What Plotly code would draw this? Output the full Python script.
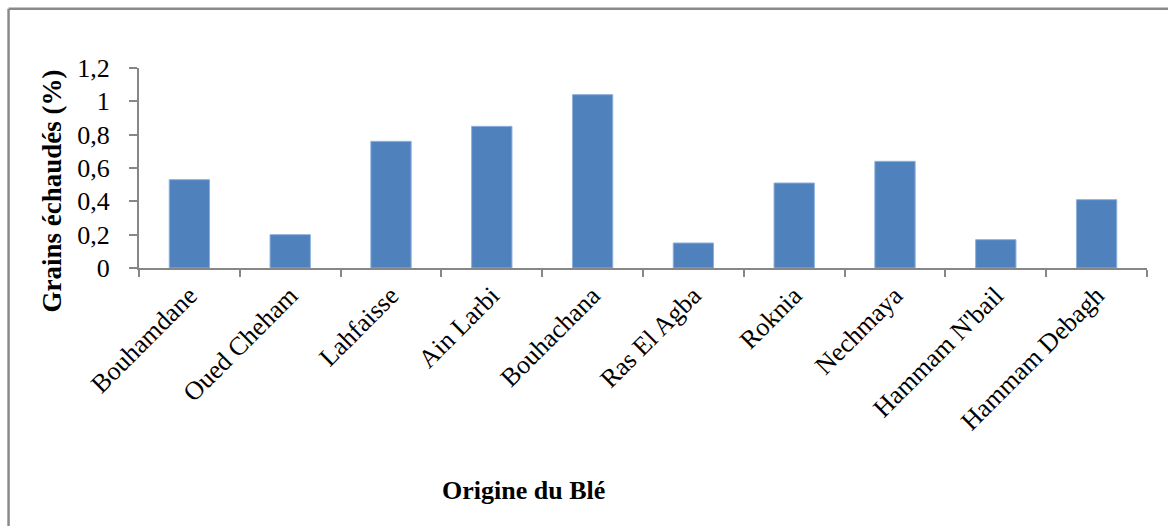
import plotly.graph_objects as go

# Wheat origin sites and percentage of shrivelled grains
origins = ["Bouhamdane", "Oued Cheham", "Lahfaisse", "Ain Larbi", "Bouhachana",
           "Ras El Agba", "Roknia", "Nechmaya", "Hammam N'bail", "Hammam Debagh"]
grains_echaudes = [0.53, 0.20, 0.76, 0.85, 1.04, 0.15, 0.51, 0.64, 0.17, 0.41]
y_ticks = [0, 0.2, 0.4, 0.6, 0.8, 1.0, 1.2]
y_tick_text = ["0", "0,2", "0,4", "0,6", "0,8", "1", "1,2"]

W, H = 1168, 526
ML, MR, MT, MB = 138.5, 21, 67.5, 257.5
PW, PH = W - ML - MR, H - MT - MB


def px_x(px):
    return (px - ML) / PW


def px_y(py):
    return (H - MB - py) / PH


serif = "Liberation Serif, Times New Roman, serif"
axis_grey = "#878787"

fig = go.Figure(go.Bar(
    x=origins,
    y=grains_echaudes,
    width=0.4,
    marker=dict(color="#4F81BD", line=dict(color="#8DB0DC", width=1)),
))

fig.update_layout(
    width=W, height=H,
    margin=dict(l=ML, r=MR, t=MT, b=MB, pad=0),
    paper_bgcolor="white", plot_bgcolor="white",
    showlegend=False,
    font=dict(family=serif, color="black"),
    bargap=0.6,
    xaxis=dict(
        type="category",
        showgrid=False,
        showline=True, linecolor=axis_grey, linewidth=2,
        ticks="outside", tickson="boundaries", ticklen=7, tickwidth=2, tickcolor=axis_grey,
        tickangle=-45,
        tickfont=dict(family=serif, size=26, color="black"),
        zeroline=False,
    ),
    yaxis=dict(
        range=[0, 1.2],
        tickvals=y_ticks, ticktext=y_tick_text,
        showgrid=False,
        showline=True, linecolor=axis_grey, linewidth=2,
        ticks="outside", ticklen=8, tickwidth=2, tickcolor=axis_grey,
        ticklabelstandoff=14,
        tickfont=dict(family=serif, size=26, color="black"),
        zeroline=False,
    ),
    annotations=[
        dict(text="<b>Origine du Blé</b>", xref="paper", yref="paper",
             x=px_x(523), y=px_y(492), xanchor="center", yanchor="middle",
             showarrow=False, font=dict(family=serif, size=26, color="black")),
        dict(text="<b>Grains échaudés (%)</b>", xref="paper", yref="paper",
             x=px_x(51), y=px_y(191), xanchor="center", yanchor="middle",
             textangle=-90, showarrow=False,
             font=dict(family=serif, size=27, color="black")),
    ],
    shapes=[
        dict(type="line", xref="paper", yref="paper",
             x0=px_x(8), x1=px_x(W + 5), y0=px_y(8), y1=px_y(8),
             line=dict(color="#8a8a8a", width=2.5)),
        dict(type="line", xref="paper", yref="paper",
             x0=px_x(8), x1=px_x(8), y0=px_y(8), y1=px_y(H + 5),
             line=dict(color="#8a8a8a", width=2.5)),
    ],
)

fig.write_html("out.html")
